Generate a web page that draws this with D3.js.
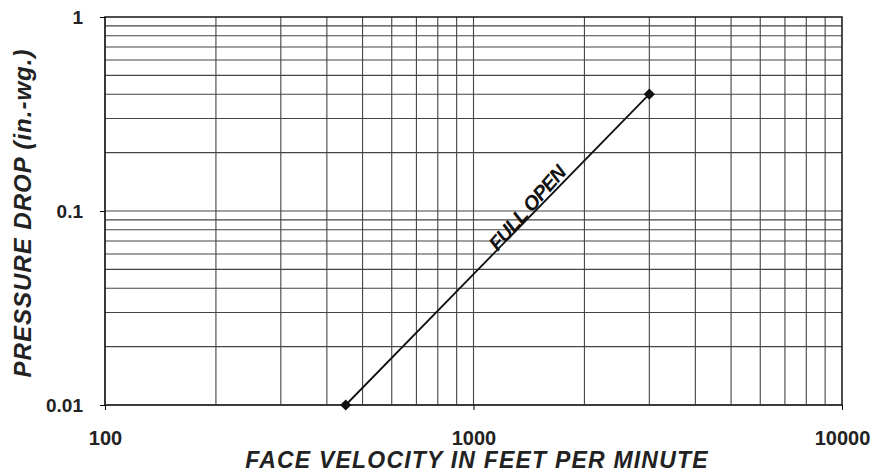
<!DOCTYPE html>
<html>
<head>
<meta charset="utf-8">
<script src="https://cdn.jsdelivr.net/npm/d3@7"></script>
<style>
  body { margin: 0; background: #fff; }
  text { font-family: "Liberation Sans", Arial, sans-serif; }
</style>
</head>
<body>
<script>
// data
const velocity = [450, 3000];      // feet per minute
const pressure = [0.01, 0.4];      // in.-wg.
const seriesLabel = "FULL OPEN";
const xTicks = [100, 1000, 10000];
const yTicks = [0.01, 0.1, 1];
const yTickLabels = ["0.01", "0.1", "1"];

const width = 875, height = 475;
const margin = {left: 105, right: 33, top: 17, bottom: 70};

const svg = d3.select("body").append("svg")
    .attr("width", width).attr("height", height);

const x = d3.scaleLog().domain([100, 10000]).range([margin.left, width - margin.right]);
const y = d3.scaleLog().domain([0.01, 1]).range([height - margin.bottom, margin.top]);

// grid lines, every 1..9 in each decade
const xGrid = [];
for (let d = 100; d < 10000; d *= 10) for (let k = 1; k < 10; k++) xGrid.push(d * k);
const yGrid = [];
for (let d = 0.01; d < 0.99; d *= 10) for (let k = 1; k < 10; k++) yGrid.push(d * k);

svg.append("g").selectAll("line").data(xGrid).enter().append("line")
    .attr("x1", d => x(d)).attr("x2", d => x(d))
    .attr("y1", y(0.01)).attr("y2", y(1))
    .attr("stroke", "#444").attr("stroke-width", 1.1);

svg.append("g").selectAll("line").data(yGrid).enter().append("line")
    .attr("x1", x(100)).attr("x2", x(10000))
    .attr("y1", d => y(d)).attr("y2", d => y(d))
    .attr("stroke", "#444").attr("stroke-width", 1.1);

// frame
svg.append("rect")
    .attr("x", x(100)).attr("y", y(1))
    .attr("width", x(10000) - x(100)).attr("height", y(0.01) - y(1))
    .attr("fill", "none").attr("stroke", "#222").attr("stroke-width", 1.6);

// axes
const xAxis = d3.axisBottom(x).tickValues(xTicks).tickFormat(d3.format("d")).tickSize(5).tickPadding(21);
svg.append("g")
    .attr("transform", "translate(0," + y(0.01) + ")")
    .call(xAxis)
    .call(g => g.select(".domain").remove())
    .call(g => g.selectAll("text").attr("font-size", 20).attr("font-weight", "bold").attr("fill", "#222"));

const yAxis = d3.axisLeft(y).tickValues(yTicks).tickFormat((d, i) => yTickLabels[i]).tickSize(5).tickPadding(17);
svg.append("g")
    .attr("transform", "translate(" + x(100) + ",0)")
    .call(yAxis)
    .call(g => g.select(".domain").remove())
    .call(g => g.selectAll("text").attr("font-size", 19).attr("font-weight", "bold").attr("fill", "#222"));

// series line + markers
const pts = velocity.map((v, i) => [v, pressure[i]]);
svg.append("path")
    .datum(pts)
    .attr("d", d3.line().x(d => x(d[0])).y(d => y(d[1])))
    .attr("fill", "none").attr("stroke", "#111").attr("stroke-width", 1.8);

svg.append("g").selectAll("path").data(pts).enter().append("path")
    .attr("transform", d => "translate(" + x(d[0]) + "," + y(d[1]) + ")")
    .attr("d", d3.symbol().type(d3.symbolDiamond2).size(80))
    .attr("fill", "#111");

// label along the line
svg.append("text")
    .attr("transform", "translate(" + x(1397) + "," + y(0.1036) + ") rotate(-48.7)")
    .attr("text-anchor", "middle")
    .attr("dy", "0.35em")
    .attr("font-size", 20).attr("font-weight", "bold").attr("font-style", "italic")
    .attr("letter-spacing", -0.9)
    .attr("fill", "#111")
    .text(seriesLabel);

// axis titles
svg.append("text")
    .attr("x", 477).attr("y", 468)
    .attr("text-anchor", "middle")
    .attr("font-size", 23).attr("font-weight", "bold").attr("font-style", "italic")
    .attr("letter-spacing", 1.2)
    .attr("fill", "#222")
    .text("FACE VELOCITY IN FEET PER MINUTE");

svg.append("text")
    .attr("transform", "translate(31,213) rotate(-90)")
    .attr("text-anchor", "middle")
    .attr("font-size", 24).attr("font-weight", "bold").attr("font-style", "italic")
    .attr("letter-spacing", 1)
    .attr("fill", "#222")
    .text("PRESSURE DROP (in.-wg.)");
</script>
</body>
</html>
